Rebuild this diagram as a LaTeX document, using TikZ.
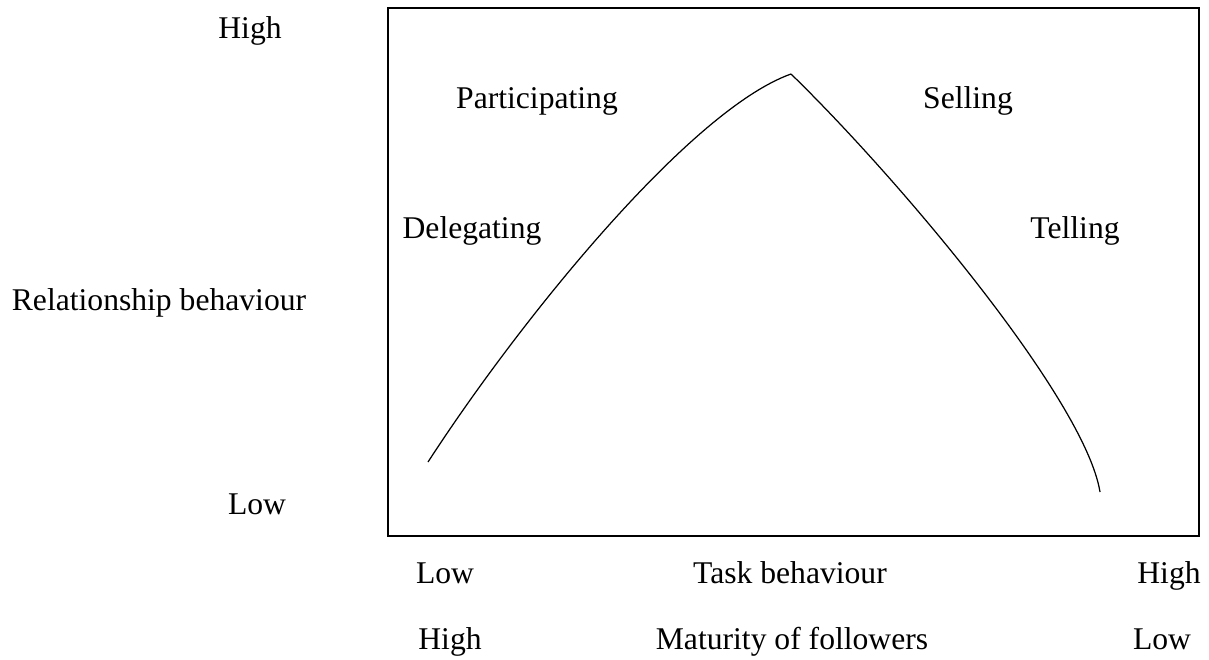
\documentclass[tikz,border=0pt]{standalone}
\usepackage{fontspec}
\setmainfont{Liberation Serif}
\usepackage{tikz}

\begin{document}
\begin{tikzpicture}[x=0.02cm, y=-0.02cm, lbl/.style={font=\fontsize{18}{22}\selectfont, inner sep=0pt, text height=1.5ex, text depth=0.25ex}]
        \useasboundingbox (0,0) rectangle (1209,659);
        % frame
        \draw[line width=0.9pt] (388,8) rectangle (1199,536);

        % curve
        \coordinate (start) at (428,462);
        \coordinate (peak) at (791,74);
        \coordinate (stop) at (1100,492);
        \draw[line width=0.7pt] (start) .. controls (520,320) and (690,110) .. (peak);
        \draw[line width=0.7pt] (peak) .. controls (900,180) and (1085,400) .. (stop);

        % styles
        \node[lbl] (part) at (537,103) {Participating};
        \node[lbl] (sell) at (968,103) {Selling};
        \node[lbl] (dele) at (472,233) {Delegating};
        \node[lbl] (tell) at (1075,233) {Telling};

        % vertical axis
        \node[lbl] (relhigh) at (250,33) {High};
        \node[lbl] (rel) at (159,305) {Relationship behaviour};
        \node[lbl] (rellow) at (257,509) {Low};

        % horizontal axis
        \node[lbl] (tasklow) at (445,578) {Low};
        \node[lbl] (task) at (790,578) {Task behaviour};
        \node[lbl] (taskhigh) at (1169,578) {High};
        \node[lbl] (mathigh) at (450,644) {High};
        \node[lbl] (mat) at (792,644) {Maturity of followers};
        \node[lbl] (matlow) at (1162,644) {Low};
    \end{tikzpicture}
\end{document}
